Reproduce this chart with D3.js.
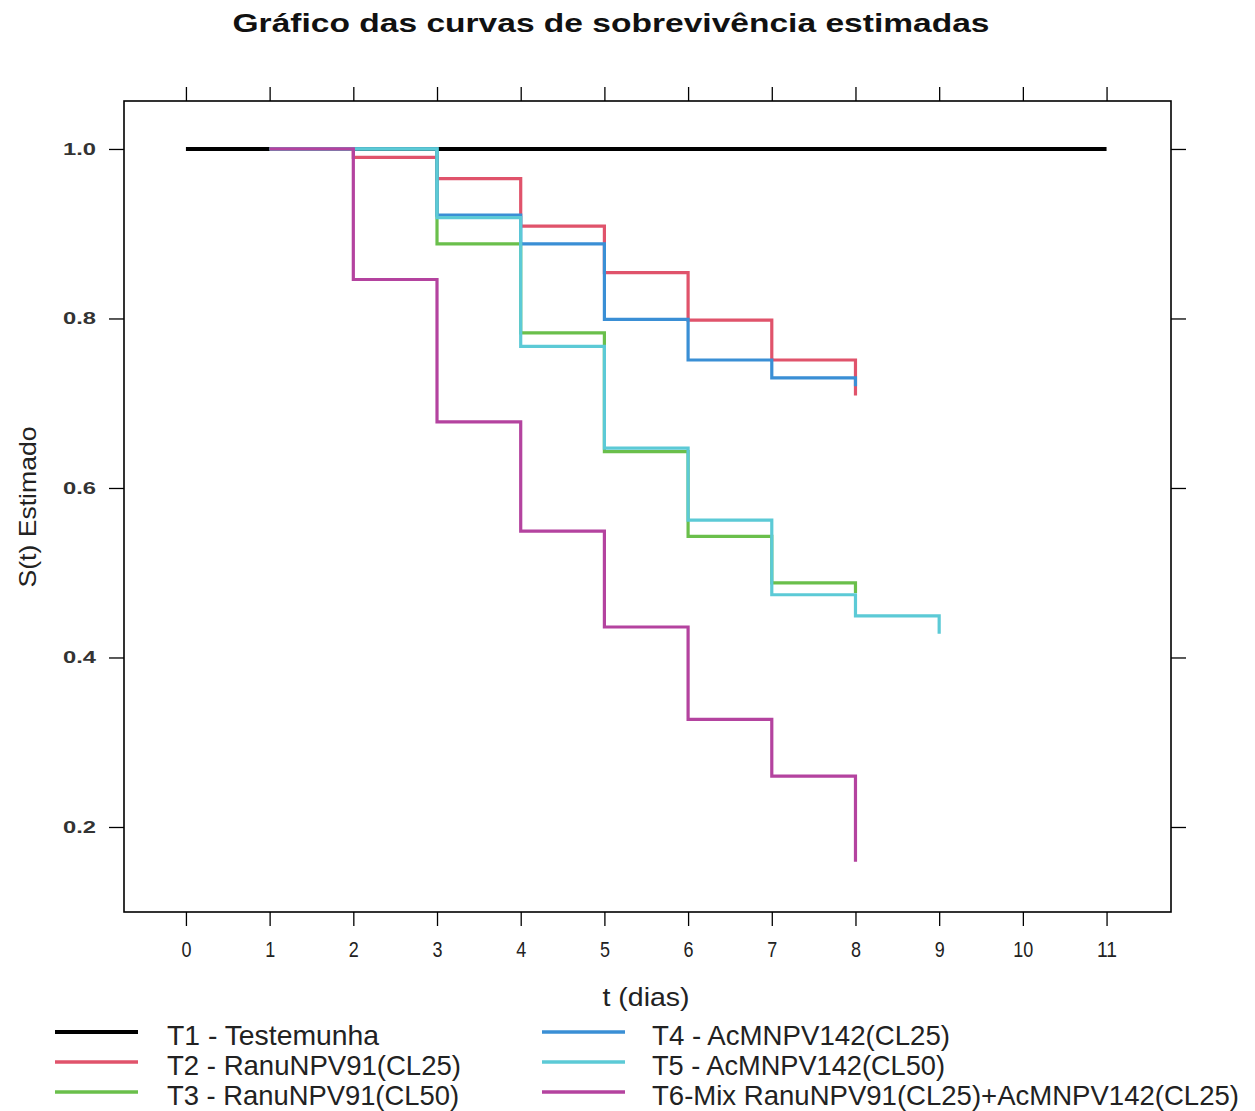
<!DOCTYPE html>
<html>
<head>
<meta charset="utf-8">
<script src="https://cdn.jsdelivr.net/npm/d3@7"></script>
<style>
  body { margin: 0; background: #fff; }
  text { font-family: "Liberation Sans", Arial, sans-serif; }
</style>
</head>
<body>
<svg></svg>
<script>
const width = 1255;
const height = 1111;
const panel = { left: 124, right: 1171, top: 101, bottom: 912 };

// Kaplan-Meier estimates
const seriesNames = [
    "T1 - Testemunha",
    "T2 - RanuNPV91(CL25)",
    "T3 - RanuNPV91(CL50)",
    "T4 - AcMNPV142(CL25)",
    "T5 - AcMNPV142(CL50)",
    "T6-Mix RanuNPV91(CL25)+AcMNPV142(CL25)",
];
const seriesColors = ["#000000", "#e0536b", "#6abf4b", "#3a8fd5", "#5ccad6", "#b4439f"];

const timesT1 = [0, 11];
const survT1 = [1.0, 1.0];
const timesT2 = [1, 2, 3, 4, 5, 6, 7, 8];
const survT2 = [1.0, 0.99, 0.965, 0.909, 0.854, 0.798, 0.751, 0.709];
const timesT3 = [1, 3, 4, 5, 6, 7, 8];
const survT3 = [1.0, 0.888, 0.783, 0.643, 0.543, 0.488, 0.476];
const timesT4 = [1, 3, 4, 5, 6, 7, 8];
const survT4 = [1.0, 0.922, 0.888, 0.799, 0.751, 0.73, 0.72];
const timesT5 = [1, 3, 4, 5, 6, 7, 8, 9];
const survT5 = [1.0, 0.919, 0.767, 0.647, 0.562, 0.474, 0.449, 0.428];
const timesT6 = [1, 2, 3, 4, 5, 6, 7, 8];
const survT6 = [1.0, 0.846, 0.678, 0.549, 0.436, 0.327, 0.26, 0.159];

const xTicks = d3.range(0, 12);
const yTicks = [0.2, 0.4, 0.6, 0.8, 1.0];

const allTimes = [timesT1, timesT2, timesT3, timesT4, timesT5, timesT6];
const allSurv = [survT1, survT2, survT3, survT4, survT5, survT6];
const data = seriesNames.map((name, i) => ({
    name,
    color: seriesColors[i],
    points: allTimes[i].map((t, j) => ({ t, s: allSurv[i][j] })),
}));

const svg = d3.select("svg").attr("width", width).attr("height", height);

const x = d3.scaleLinear().domain([-0.74, 11.77]).range([panel.left, panel.right]);
const y = d3.scaleLinear().domain([0.0997, 1.0566]).range([panel.bottom, panel.top]);

// title
svg.append("text")
    .attr("x", 611)
    .attr("y", 32)
    .attr("text-anchor", "middle")
    .attr("font-size", 26)
    .attr("font-weight", "bold")
    .attr("fill", "#111")
    .attr("textLength", 757)
    .attr("lengthAdjust", "spacingAndGlyphs")
    .text("Gráfico das curvas de sobrevivência estimadas");

// axes (ticks outside on all four sides)
const gx = svg.append("g")
    .attr("transform", `translate(0,${panel.bottom})`)
    .call(d3.axisBottom(x).tickValues(xTicks).tickSize(14).tickPadding(15).tickFormat(d3.format("d")));
gx.selectAll("text")
    .attr("font-size", 22)
    .attr("fill", "#222")
    .attr("textLength", (d) => String(d).length * 10)
    .attr("lengthAdjust", "spacingAndGlyphs");

svg.append("g")
    .attr("transform", `translate(0,${panel.top})`)
    .call(d3.axisTop(x).tickValues(xTicks).tickSize(14).tickFormat(""));

const gy = svg.append("g")
    .attr("transform", `translate(${panel.left},0)`)
    .call(d3.axisLeft(y).tickValues(yTicks).tickSize(15).tickPadding(13).tickFormat(d3.format(".1f")));
gy.selectAll("text")
    .attr("font-size", 17)
    .attr("font-weight", "bold")
    .attr("fill", "#333")
    .attr("textLength", 33)
    .attr("lengthAdjust", "spacingAndGlyphs");

svg.append("g")
    .attr("transform", `translate(${panel.right},0)`)
    .call(d3.axisRight(y).tickValues(yTicks).tickSize(15).tickFormat(""));

svg.selectAll(".domain").remove();
svg.selectAll(".tick line").attr("stroke", "#000").attr("stroke-width", 1.3);

svg.append("rect")
    .attr("x", panel.left)
    .attr("y", panel.top)
    .attr("width", panel.right - panel.left)
    .attr("height", panel.bottom - panel.top)
    .attr("fill", "none")
    .attr("stroke", "#000")
    .attr("stroke-width", 1.6);

// axis labels
svg.append("text")
    .attr("x", 646)
    .attr("y", 1006)
    .attr("text-anchor", "middle")
    .attr("font-size", 25)
    .attr("fill", "#222")
    .attr("textLength", 87)
    .attr("lengthAdjust", "spacingAndGlyphs")
    .text("t (dias)");

svg.append("text")
    .attr("transform", "translate(36,507) rotate(-90)")
    .attr("text-anchor", "middle")
    .attr("font-size", 24)
    .attr("fill", "#222")
    .attr("textLength", 161)
    .attr("lengthAdjust", "spacingAndGlyphs")
    .text("S(t) Estimado");

// survival curves
const line = d3.line()
    .x((d) => x(d.t))
    .y((d) => y(d.s))
    .curve(d3.curveStepAfter);

svg.append("g")
    .selectAll("path")
    .data(data)
    .join("path")
    .attr("d", (d) => line(d.points))
    .attr("fill", "none")
    .attr("stroke", (d) => d.color)
    .attr("stroke-width", (d, i) => (i === 0 ? 4 : 3.2));

// legend: two columns of three
const legendWidths = [212, 294, 292, 298, 293, 587];
const legend = svg.append("g")
    .selectAll("g")
    .data(data)
    .join("g")
    .attr("transform", (d, i) => {
        const col = Math.floor(i / 3);
        const row = i % 3;
        return `translate(${col === 0 ? 55 : 542},${1032 + row * 30})`;
    });

legend.append("line")
    .attr("x1", 0)
    .attr("x2", 83)
    .attr("stroke", (d) => d.color)
    .attr("stroke-width", (d, i) => (i === 0 ? 4 : 3.5));

legend.append("text")
    .attr("x", (d, i) => (i < 3 ? 112 : 110))
    .attr("y", 13)
    .attr("font-size", 28)
    .attr("fill", "#222")
    .attr("textLength", (d, i) => legendWidths[i])
    .attr("lengthAdjust", "spacingAndGlyphs")
    .text((d) => d.name);
</script>
</body>
</html>
